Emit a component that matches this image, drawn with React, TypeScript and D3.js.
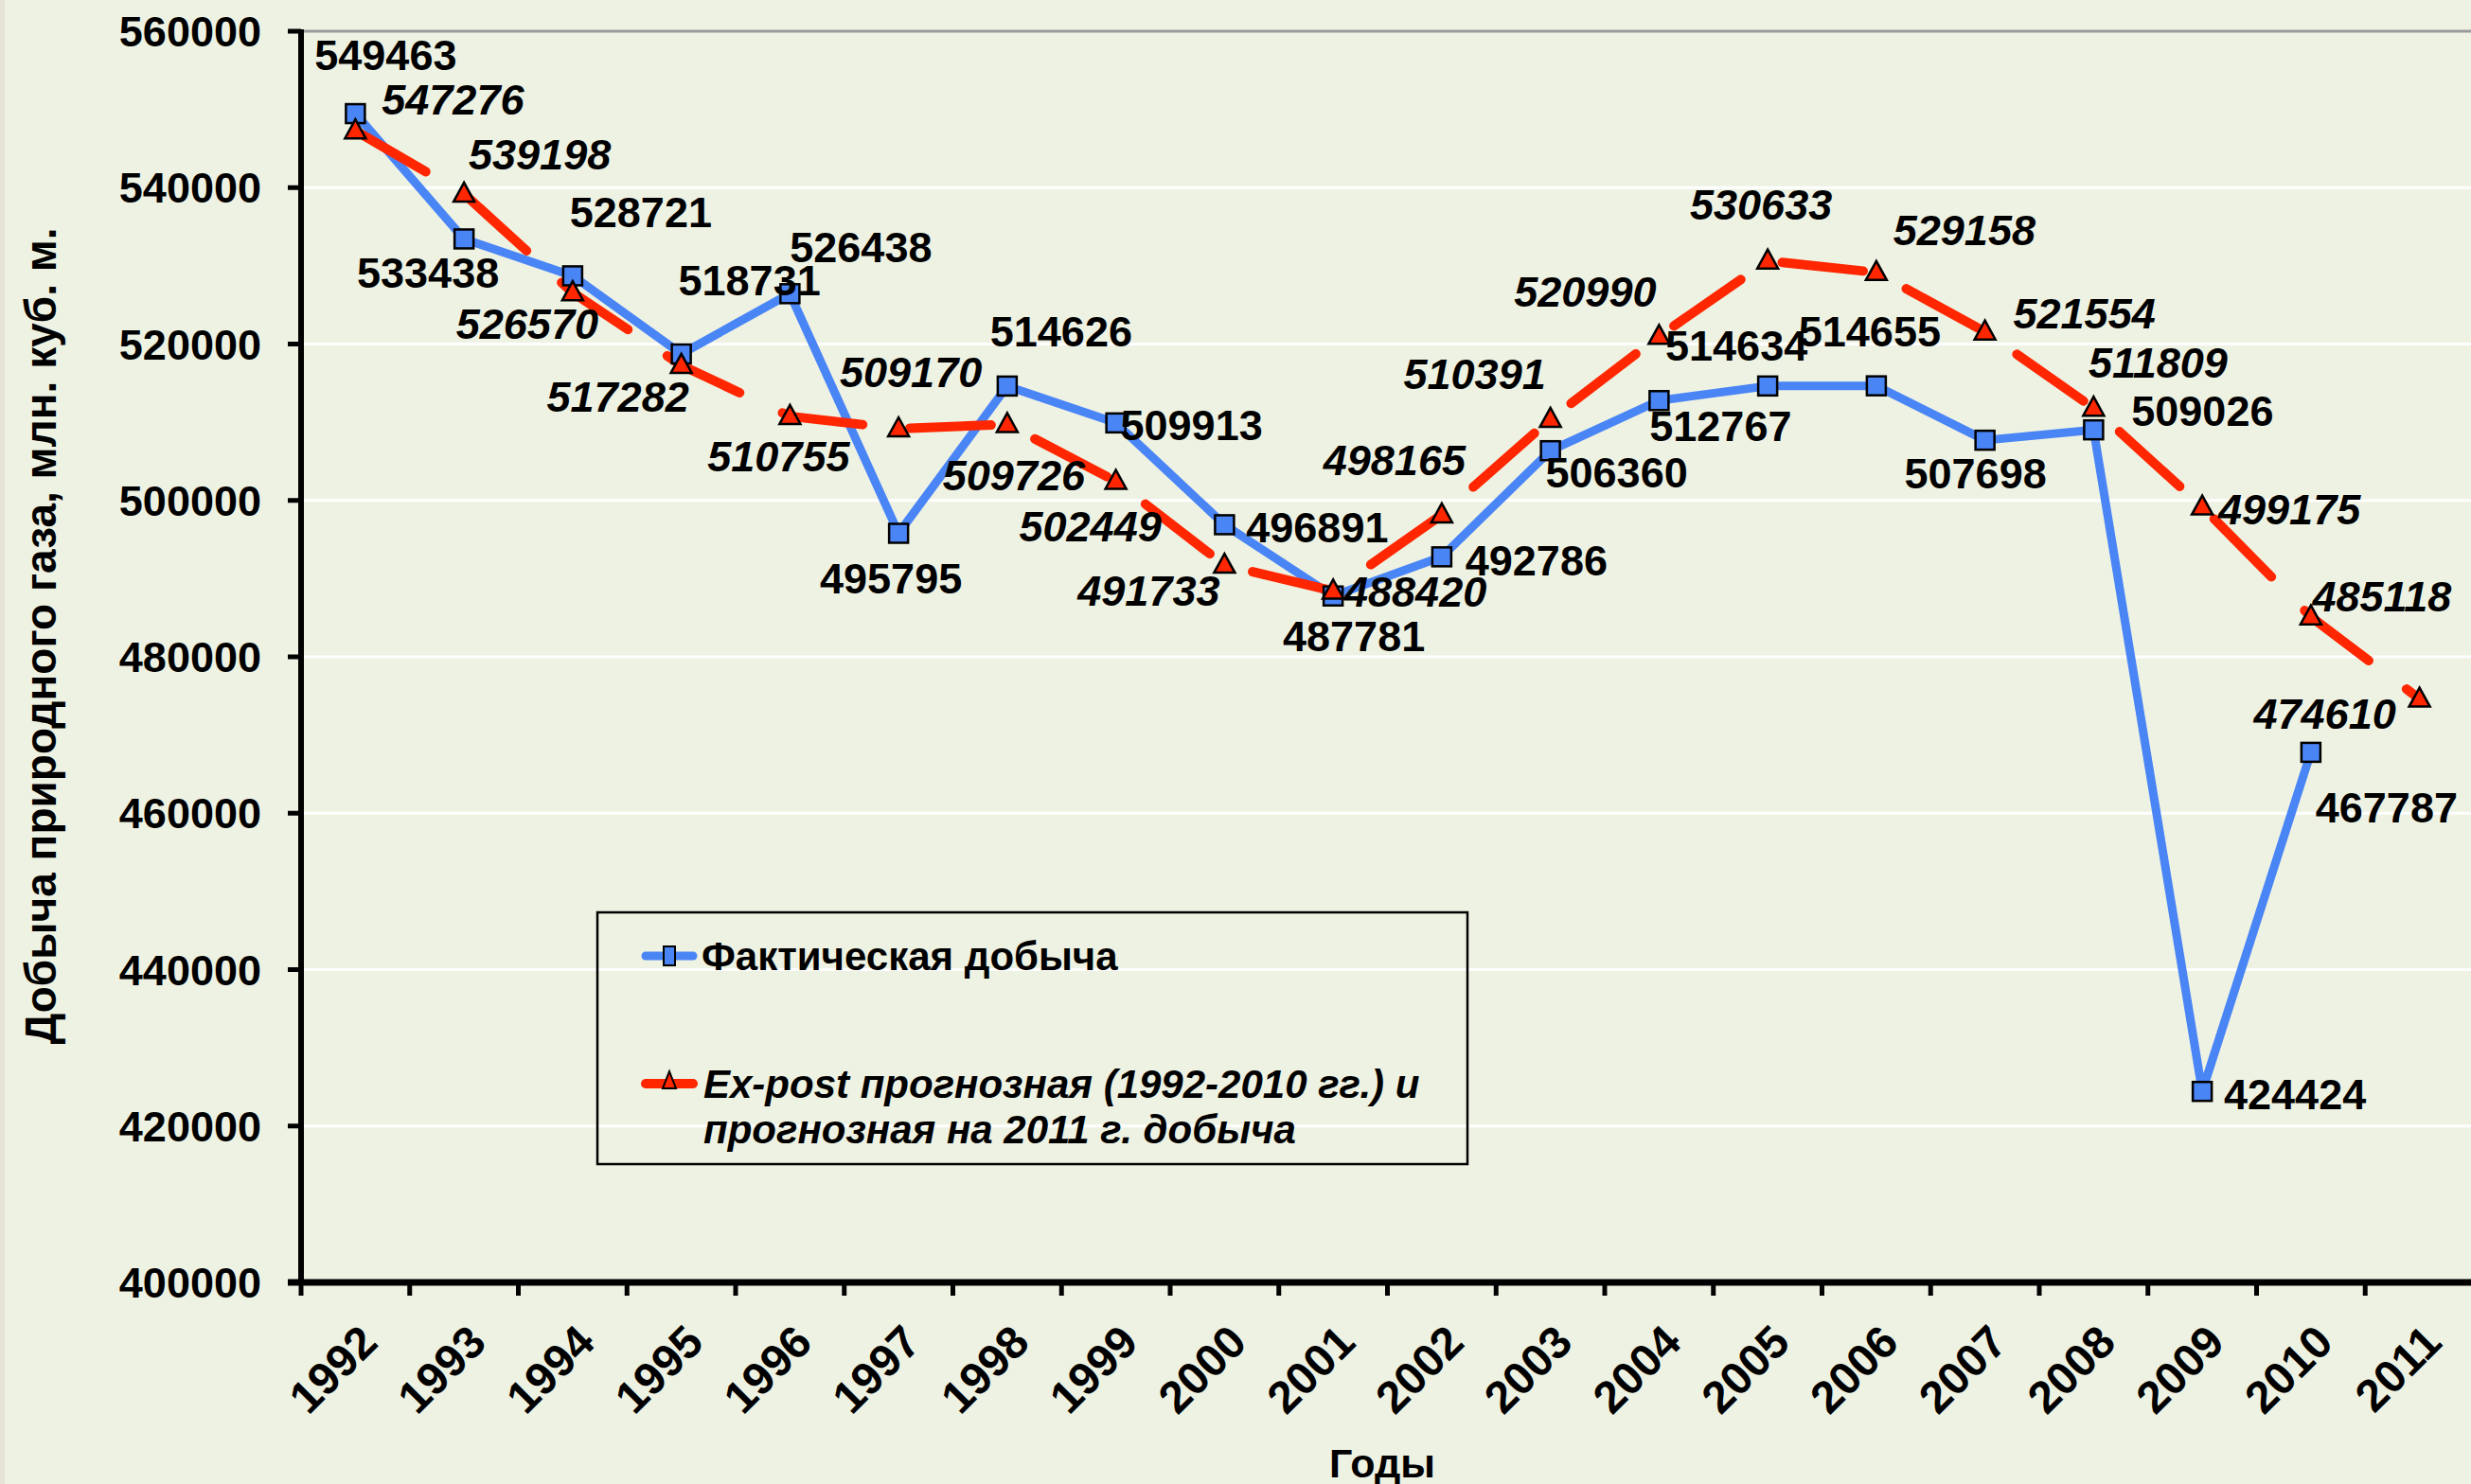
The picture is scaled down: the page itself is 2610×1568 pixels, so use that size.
import React from 'react'
import { scaleBand, scaleLinear, line } from 'd3'

// Years on the category axis
const years = ['1992','1993','1994','1995','1996','1997','1998','1999','2000','2001',
  '2002','2003','2004','2005','2006','2007','2008','2009','2010','2011']

// Actual production (no value for 2011)
const actual = [549463, 533438, 528721, 518731, 526438, 495795, 514626, 509913, 496891, 487781,
  492786, 506360, 512767, 514634, 514655, 507698, 509026, 424424, 467787]

// Ex-post forecast 1992-2010 and forecast for 2011
const forecast = [547276, 539198, 526570, 517282, 510755, 509170, 509726, 502449, 491733, 488420,
  498165, 510391, 520990, 530633, 529158, 521554, 511809, 499175, 485118, 474610]

const yTicks = [400000, 420000, 440000, 460000, 480000, 500000, 520000, 540000, 560000]

// label offsets from each point (px)
const actualLabelOffsets = [[32,-62],[-38,35],[72,-68],[72,-78],[75,-50],[-8,47],[57,-58],[80,2],[98,2],[22,42],
  [100,3],[70,23],[65,27],[-33,-43],[-7,-58],[-10,35],[115,-20],[98,3],[80,58]]
const forecastLabelOffsets = [[103,-33],[80,-42],[-48,33],[-67,33],[-12,42],[13,-60],[7,53],[-27,47],[-80,27],[87,0],
  [-50,-58],[-80,-48],[-78,-48],[-7,-60],[93,-45],[105,-20],[68,-48],[92,2],[75,-22],[-100,15]]

const W = 2610
const H = 1568
const BLUE = '#4A85F6'
const RED = '#FF2600'
const BG = '#EEF2E3'
const FONT = '"Liberation Sans", Arial, sans-serif'

const Square = ({ x, y }) => (
  <rect x={x - 10} y={y - 10} width={20} height={20} fill={BLUE} stroke="#000" strokeWidth={2.5} />
)
const Triangle = ({ x, y }) => (
  <path d={`M${x},${y - 12} L${x + 11},${y + 8} L${x - 11},${y + 8} Z`} fill={RED} stroke="#000" strokeWidth={2.5} />
)

const App = () => {
  const left = 318, right = 2613, top = 33, bottom = 1355

  const xScale = scaleBand().domain(years).range([left, right]).padding(0)
  const yScale = scaleLinear().domain([400000, 560000]).range([bottom, top])
  const cx = i => xScale(years[i]) + xScale.bandwidth() / 2

  const pathGen = line().x(d => d[0]).y(d => d[1])
  const actualPts = actual.map((v, i) => [cx(i), yScale(v)])
  const forecastPts = forecast.map((v, i) => [cx(i), yScale(v)])

  return (
    <svg width={W} height={H} style={{ position: 'absolute', left: 0, top: 0 }} fontFamily={FONT}>
      <rect width={W} height={H} fill={BG} />
      <rect width={5} height={H} fill="#E6E3D6" />

      {/* gridlines */}
      {yTicks.slice(1).map(t => (
        <line key={t} x1={left} x2={W} y1={yScale(t)} y2={yScale(t)}
          stroke={t === 560000 ? '#9A9A9A' : '#FFFFFF'} strokeWidth={3} />
      ))}

      {/* y axis */}
      <line x1={left} x2={left} y1={top - 2} y2={bottom + 3} stroke="#000" strokeWidth={6} />
      {yTicks.map(t => (
        <g key={t}>
          <line x1={left - 14} x2={left} y1={yScale(t)} y2={yScale(t)} stroke="#000" strokeWidth={5} />
          <text x={276} y={yScale(t)} dy="0.36em" textAnchor="end" fontSize={45} fontWeight="bold">{t}</text>
        </g>
      ))}

      {/* x axis */}
      <line x1={left - 14} x2={W} y1={bottom} y2={bottom} stroke="#000" strokeWidth={7} />
      {years.map((yr, i) => (
        <line key={'t' + yr} x1={xScale(yr)} x2={xScale(yr)} y1={bottom} y2={bottom + 14} stroke="#000" strokeWidth={5} />
      ))}
      {years.map((yr, i) => (
        <text key={yr} transform={`translate(${cx(i) + 2},${bottom + 42}) rotate(-45)`}
          textAnchor="end" dy="0.7em" fontSize={48} fontWeight="bold">{yr}</text>
      ))}

      <text x={1460} y={1546} dy="0.36em" textAnchor="middle" fontSize={43} fontWeight="bold">Годы</text>
      <text transform="translate(42,672) rotate(-90)" dy="0.36em" textAnchor="middle" fontSize={46} fontWeight="bold">
        Добыча природного газа, млн. куб. м.
      </text>

      {/* series */}
      <path d={pathGen(actualPts)} fill="none" stroke={BLUE} strokeWidth={9} strokeLinejoin="round" />
      <path d={pathGen(forecastPts)} fill="none" stroke={RED} strokeWidth={10}
        strokeDasharray="86,50" strokeLinecap="round" strokeLinejoin="round" />
      {actualPts.map((p, i) => <Square key={'s' + i} x={p[0]} y={p[1]} />)}
      {forecastPts.map((p, i) => <Triangle key={'r' + i} x={p[0]} y={p[1]} />)}

      {/* labels */}
      {actual.map((v, i) => (
        <text key={'al' + i} x={actualPts[i][0] + actualLabelOffsets[i][0]} y={actualPts[i][1] + actualLabelOffsets[i][1]}
          dy="0.36em" textAnchor="middle" fontSize={45} fontWeight="bold">{v}</text>
      ))}
      {forecast.map((v, i) => (
        <text key={'fl' + i} x={forecastPts[i][0] + forecastLabelOffsets[i][0]} y={forecastPts[i][1] + forecastLabelOffsets[i][1]}
          dy="0.36em" textAnchor="middle" fontSize={45} fontWeight="bold" fontStyle="italic">{v}</text>
      ))}

      {/* legend */}
      <rect x={631} y={964} width={919} height={266} fill="none" stroke="#000" strokeWidth={2.5} />
      <line x1={682} x2={732} y1={1010} y2={1010} stroke={BLUE} strokeWidth={9} strokeLinecap="round" />
      <rect x={701} y={1000} width={12} height={20} fill={BLUE} stroke="#000" strokeWidth={2} />
      <text x={741} y={1010} dy="0.36em" fontSize={42} fontWeight="bold">Фактическая добыча</text>
      <line x1={682} x2={732} y1={1145} y2={1145} stroke={RED} strokeWidth={10} strokeLinecap="round" />
      <path d="M707,1132 L714,1150 L700,1150 Z" fill={RED} stroke="#000" strokeWidth={2} />
      <text x={743} y={1145} dy="0.36em" fontSize={42} fontWeight="bold" fontStyle="italic">Ex-post прогнозная (1992-2010 гг.) и</text>
      <text x={743} y={1193} dy="0.36em" fontSize={42} fontWeight="bold" fontStyle="italic">прогнозная на 2011 г. добыча</text>
    </svg>
  )
}

export default App
